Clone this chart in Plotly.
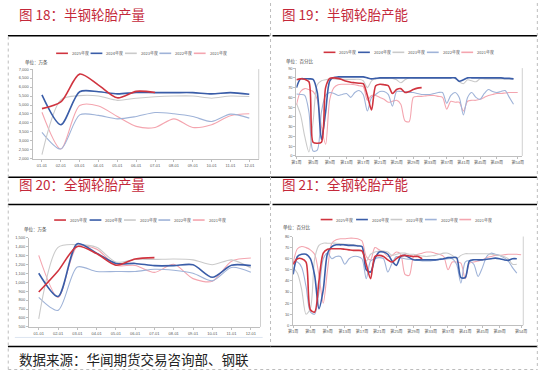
import plotly.graph_objects as go

W, H = 543, 372

# ---------------- data ----------------
MONTHS = ["01-01", "02-01", "03-01", "04-01", "05-01", "06-01",
          "07-01", "08-01", "09-01", "10-01", "11-01", "12-01"]
WEEKS = [1, 2, 3, 4, 5, 6, 7, 8, 9, 10, 11, 12, 13, 14, 15, 16, 17, 18, 19, 20,
         21, 22, 23, 24, 25, 26, 27, 28, 29, 30, 31, 32, 33, 34, 35, 36, 37, 38,
         39, 40, 41, 42, 43, 44, 45, 46, 47, 48, 49, 50, 51, 52, 53, 54]
WEEK_TICKS = [1, 5, 9, 13, 17, 21, 25, 29, 33, 37, 41, 45, 49, 54]
WEEK_TICK_TEXT = ["第1周", "第5周", "第9周", "第13周", "第17周", "第21周", "第25周",
                  "第29周", "第33周", "第37周", "第41周", "第45周", "第49周", "第54周"]
YEARS = ["2025年度", "2024年度", "2023年度", "2022年度", "2021年度"]

# Fig 18: semi-steel tyre output (10k units)
semi_out_2025 = [4800, 5170, 6720, 6110, 5400, 5760, 5700]
semi_out_2024 = [5560, 3900, 5740, 5740, 5620, 5700, 5690, 5690, 5690, 5620, 5690, 5600]
semi_out_2023 = [2240, 5290, 5520, 5500, 5260, 5380, 5460, 5500, 5500, 5380, 5500, 5470]
semi_out_2022 = [3480, 2550, 4450, 4420, 4230, 4360, 4580, 4510, 4360, 4080, 4490, 4270]
semi_out_2021 = [4600, 2550, 4970, 4950, 4360, 3810, 3750, 4230, 3750, 3900, 4400, 4510]

# Fig 19: semi-steel tyre capacity utilisation (%)
semi_cap_2025 = [78, 79, 78.5, 76, 14, 13, 14, 70, 79.5, 80, 79.5, 78, 76.5, 75.5, 75,
                 74.5, 74, 62, 47, 72, 73.5, 73, 72, 64, 68, 69, 65, 66, 68, 69.5, 70]
semi_cap_2024 = [70, 79, 79, 79, 78.5, 65, 17, 45, 77, 80.5, 81, 81, 81, 81, 81, 81, 81,
                 80, 79, 79.5, 80, 80, 80, 80, 80, 80, 80, 80, 80, 80, 80, 80, 80, 80,
                 80, 80, 80, 80, 80, 76.5, 78, 80, 80, 80, 80, 80, 80, 80, 80, 80,
                 79.5, 79.5, 79]
semi_cap_2023 = [54, 42, 20, 4, 35, 73, 77, 78, 79, 79, 78.5, 78.5, 78.5, 78.5, 78.5,
                 78.5, 77, 70, 77, 79, 79.5, 79.5, 79.5, 79.5, 78, 75, 78, 80, 80, 80,
                 80, 80, 80, 80, 80, 80, 80, 80, 80, 76, 74, 78, 77, 76, 79, 79, 79,
                 79, 79, 79, 79, 79, 79]
semi_cap_2022 = [63.5, 63, 62, 45, 5, 6, 45, 62, 65, 64, 62, 63, 64, 60, 65, 67, 63, 46,
                 60, 63, 66, 66, 63, 51, 66, 66, 66, 65, 65, 64, 63, 63, 63, 64, 65, 65,
                 54, 62, 65, 60, 42, 60, 65, 60, 58, 64, 68, 66, 65, 66, 67, 60, 53]
semi_cap_2021 = [52, 66, 69, 68, 66, 58, 30, 12, 58, 70, 73, 73.5, 73.5, 73.5, 73, 72,
                 71, 57, 62, 62, 60, 58, 55, 56, 57, 53, 36, 35, 60, 61, 61, 61.5, 62,
                 62, 61, 60, 48, 56, 55, 55, 46, 56, 57, 57, 58, 60, 62, 63, 64, 64,
                 64.5, 65, 65, 65]

# Fig 20: all-steel tyre output (10k units)
all_out_2025 = [890, 1125, 1400, 1320, 1190, 1260, 1275]
all_out_2024 = [1100, 840, 1430, 1325, 1210, 1210, 1185, 1185, 1195, 1055, 1190, 1185]
all_out_2023 = [590, 1390, 1420, 1390, 1225, 1255, 1255, 1260, 1250, 1195, 1250, 1160]
all_out_2022 = [830, 685, 1170, 1120, 1120, 1120, 1145, 1133, 1100, 1015, 1165, 1110]
all_out_2021 = [1300, 830, 1400, 1370, 1190, 1187, 1110, 1200, 1040, 1010, 1235, 1270]

# Fig 21: all-steel tyre capacity utilisation (%)
all_cap_2025 = [55, 60, 60, 57, 14, 12, 40, 65, 68.5, 69, 69, 69, 68.5, 68, 67.5, 67.5,
                67, 55, 42, 62, 63, 62, 59, 57, 60, 62.5, 63, 62.5, 62, 62, 60]
all_cap_2024 = [46, 62, 64, 64, 60, 45, 15, 32, 65, 71, 72.5, 72.5, 72.5, 72, 72, 71.5,
                71, 50, 48, 60, 66, 66, 64, 58, 54, 62, 63, 61, 59, 59, 59, 59, 59, 59,
                59.5, 60, 61, 61, 61, 43, 43, 58, 59, 59, 59, 59.5, 60, 60.5, 60, 59,
                58.5, 60, 60]
all_cap_2023 = [52, 47, 32, 10, 15, 60, 72, 74, 74, 74, 74, 73.5, 73, 73, 72.5, 72, 71,
                58, 64, 66, 67, 67, 66, 63, 64, 65, 65, 64, 64, 63, 62.5, 62, 62.5, 63,
                64, 65, 65, 63, 60, 63, 64.5, 64.5, 64.5, 64.5, 64.5, 64.5, 64, 63.5,
                63, 62, 60, 55, 55]
all_cap_2022 = [57, 57, 52, 35, 12, 10, 30, 60, 65, 60, 62, 62, 55, 60, 62, 62, 60, 42,
                58, 60, 61, 60, 48, 56, 62, 61, 60, 59.5, 59, 58.5, 58, 58, 58, 58.5,
                59, 59.5, 60, 60, 55, 38, 57, 58, 55, 44, 52, 62, 65, 64, 63, 61, 58,
                52, 47]
all_cap_2021 = [56, 69, 71, 70, 68, 64, 45, 20, 50, 74, 77, 78, 78, 78.5, 78.5, 78, 76,
                62, 59, 70, 68, 66, 62, 63, 66, 64, 46, 45, 62, 64, 65, 66, 66, 65, 64,
                62, 50, 57, 57, 56, 42, 56, 57, 58, 59, 61, 62, 63, 63, 63.5, 64, 64,
                64, 63.5]

COLORS = ["#D0343F", "#3A5DA8", "#CACACA", "#9FB3D8", "#F4A5AF"]
WIDTHS = [1.6, 1.6, 1.1, 1.1, 1.1]


def px(x):
    return x / W


def py(y):
    return 1 - y / H


fig = go.Figure()

panels = [
    ("x", "y", MONTHS, [semi_out_2025, semi_out_2024, semi_out_2023, semi_out_2022, semi_out_2021]),
    ("x2", "y2", WEEKS, [semi_cap_2025, semi_cap_2024, semi_cap_2023, semi_cap_2022, semi_cap_2021]),
    ("x3", "y3", MONTHS, [all_out_2025, all_out_2024, all_out_2023, all_out_2022, all_out_2021]),
    ("x4", "y4", WEEKS, [all_cap_2025, all_cap_2024, all_cap_2023, all_cap_2022, all_cap_2021]),
]

for xa, ya, xs, series in panels:
    for i in reversed(range(5)):
        vals = series[i]
        fig.add_trace(go.Scatter(
            x=xs[:len(vals)], y=vals, mode="lines", name=YEARS[i],
            xaxis=xa, yaxis=ya, showlegend=False, hoverinfo="skip",
            line=dict(color=COLORS[i], width=WIDTHS[i], shape="spline", smoothing=0.8),
        ))

axis_common = dict(showline=True, linecolor="#BFBFBF", linewidth=1, ticks="outside",
                   ticklen=2, tickcolor="#BFBFBF", tickwidth=1, showgrid=False,
                   zeroline=False, tickfont=dict(size=4, color="#595959",
                                                 family="Liberation Sans, Noto Sans CJK SC"))

fig.update_layout(
    width=W, height=H, margin=dict(l=0, r=0, t=0, b=0),
    paper_bgcolor="white", plot_bgcolor="white", showlegend=False,
    xaxis=dict(domain=[px(28), px(258)], anchor="y", type="category",
               range=[-0.5, 11.5], **axis_common),
    yaxis=dict(domain=[py(158), py(67)], anchor="x", range=[2000, 7000], dtick=500,
               tickformat=",", **axis_common),
    xaxis2=dict(domain=[px(296.3), px(526)], anchor="y2", range=[1, 55.1],
                tickvals=WEEK_TICKS, ticktext=WEEK_TICK_TEXT, **axis_common),
    yaxis2=dict(domain=[py(155), py(66)], anchor="x2", range=[0, 90], dtick=10,
                **axis_common),
    xaxis3=dict(domain=[px(24.5), px(259.8)], anchor="y3", type="category",
                range=[-0.5, 11.5], **axis_common),
    yaxis3=dict(domain=[py(328.3), py(237.7)], anchor="x3", range=[500, 1500],
                dtick=100, tickformat=",", **axis_common),
    xaxis4=dict(domain=[px(293), px(527)], anchor="y4", range=[1, 54.5],
                tickvals=WEEK_TICKS, ticktext=WEEK_TICK_TEXT, **axis_common),
    yaxis4=dict(domain=[py(326.7), py(236.7)], anchor="x4", range=[0, 80], dtick=10,
                **axis_common),
)

shapes = []
annotations = []

for ax in ["x", "x2", "x3", "x4"]:
    ya = ax.replace("x", "y")
    shapes.append(dict(type="line", xref=f"{ax} domain", yref=f"{ya} domain",
                       x0=1, x1=1, y0=0, y1=1, line=dict(color="#D0D0D0", width=1)))

for (x0, x1, y) in [(3, 269, 33.3), (272, 541, 33.3), (3, 541, 176.7),
                    (3, 269, 204.3), (272, 541, 204.3), (3, 541, 348.3)]:
    shapes.append(dict(type="line", xref="paper", yref="paper", x0=px(x0), x1=px(x1),
                       y0=py(y), y1=py(y), line=dict(color="black", width=1.5)))

dash = dict(color="#BDBDBD", width=1, dash="dot")
for (x0, y0, x1, y1) in [(3.3, 34, 3.3, 371.5), (541.3, 0, 541.3, 371.5),
                         (270, 0, 270, 348), (3.3, 371.5, 541.3, 371.5)]:
    shapes.append(dict(type="line", xref="paper", yref="paper", x0=px(x0), x1=px(x1),
                       y0=py(y0), y1=py(y1), line=dash))

shapes.append(dict(type="line", xref="paper", yref="paper", x0=px(10), x1=px(262),
                   y0=py(339), y1=py(339), line=dict(color="#DCE5F1", width=1)))

title_font = dict(family="Noto Sans CJK SC", size=13.5, color="#C4283A")
for (txt, x, y) in [("图 18：半钢轮胎产量", 12, 11.5), ("图 19：半钢轮胎产能", 280, 11.5),
                    ("图 20：全钢轮胎产量", 12, 183.5), ("图 21：全钢轮胎产能", 280, 183.5)]:
    annotations.append(dict(text=txt, x=px(x), y=py(y), xref="paper", yref="paper",
                            xanchor="left", yanchor="middle", showarrow=False,
                            font=title_font))

unit_font = dict(family="Noto Sans CJK SC", size=4.5, color="#404040")
for (txt, x, y) in [("单位：万条", 18, 60), ("单位：百分比", 284, 59),
                    ("单位：万条", 17, 230), ("单位：百分比", 281, 228)]:
    annotations.append(dict(text=txt, x=px(x), y=py(y), xref="paper", yref="paper",
                            xanchor="left", yanchor="middle", showarrow=False,
                            font=unit_font))

leg_font = dict(family="Noto Sans CJK SC", size=4, color="#595959")
legend_rows = [([52, 87, 122, 157, 192], 51), ([324, 359, 394, 429, 464], 50),
               ([50, 86, 121, 156, 191], 220), ([321, 357, 392, 427, 462], 219.5)]
for xs_leg, yl in legend_rows:
    for i, x0 in enumerate(xs_leg):
        shapes.append(dict(type="line", xref="paper", yref="paper", x0=px(x0),
                           x1=px(x0 + 12), y0=py(yl), y1=py(yl),
                           line=dict(color=COLORS[i], width=1.6)))
        annotations.append(dict(text=YEARS[i], x=px(x0 + 14), y=py(yl), xref="paper",
                                yref="paper", xanchor="left", yanchor="middle",
                                showarrow=False, font=leg_font))

annotations.append(dict(text="数据来源：华闻期货交易咨询部、钢联", x=px(12), y=py(360.5),
                        xref="paper", yref="paper", xanchor="left", yanchor="middle",
                        showarrow=False,
                        font=dict(family="Noto Sans CJK SC", size=13.5, color="#222222")))

fig.update_layout(shapes=shapes, annotations=annotations)
fig.write_html("out.html", config={"displayModeBar": False},
               post_script="document.body.style.margin='0px';document.body.style.overflow='hidden';")
